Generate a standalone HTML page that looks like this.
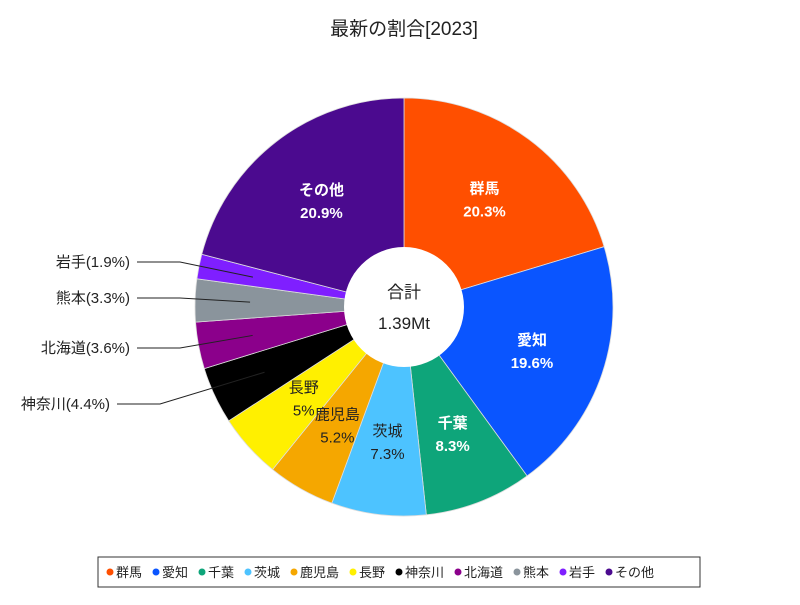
<!DOCTYPE html>
<html><head><meta charset="utf-8"><style>
body{margin:0;background:#fff;}
svg text{font-family:"Liberation Sans","Noto Sans CJK JP",sans-serif;}
</style></head><body>
<svg id="c" width="800" height="600" viewBox="0 0 800 600" xmlns="http://www.w3.org/2000/svg">
<rect width="800" height="600" fill="#fff"/>
<text x="404" y="35" font-size="19" text-anchor="middle" fill="#222">最新の割合[2023]</text>
<g id="slices"></g>
<g id="labels"></g>
<circle cx="404" cy="307" r="60" fill="#fff"/>
<text x="404" y="298" font-size="17" text-anchor="middle" fill="#222">合計</text>
<text x="404" y="329" font-size="17" text-anchor="middle" fill="#222">1.39Mt</text>
<rect x="98" y="557" width="602" height="30" fill="#fff" stroke="#333" stroke-width="1"/>
<g id="legend"></g>
</svg>
<script>
const categories=["群馬","愛知","千葉","茨城","鹿児島","長野","神奈川","北海道","熊本","岩手","その他"];
const values=[20.3,19.6,8.3,7.3,5.2,5,4.4,3.6,3.3,1.9,20.9];
const valueLabels=["20.3%","19.6%","8.3%","7.3%","5.2%","5%","4.4%","3.6%","3.3%","1.9%","20.9%"];
const colors=["#ff4f00","#0a55ff","#0ea57a","#4dc3ff","#f5a700","#fff000","#000000","#8b008b","#8a949c","#7f1fff","#4b0a8f"];
const textColors=["#fff","#fff","#fff","#222","#222","#222",null,null,null,null,"#fff"];
const NS="http://www.w3.org/2000/svg";
const cx=404,cy=307,R=209,r0=60,rl=135;
const total=values.reduce((a,b)=>a+b,0);
function pt(a,rad){return [cx+rad*Math.sin(a),cy-rad*Math.cos(a)];}
function mk(t,attrs,parent){const e=document.createElementNS(NS,t);for(const k in attrs)e.setAttribute(k,attrs[k]);parent.appendChild(e);return e;}
const gs=document.getElementById('slices'),gl=document.getElementById('labels'),gleg=document.getElementById('legend');
let acc=0;
const outside={6:[160,404],7:[180,348],8:[180,298],9:[180,262]};
values.forEach((v,i)=>{
  const a0=acc/total*2*Math.PI;acc+=v;const a1=acc/total*2*Math.PI;
  const p0=pt(a0,R),p1=pt(a1,R);const large=(a1-a0)>Math.PI?1:0;
  const p=mk('path',{d:`M${cx},${cy} L${p0[0]},${p0[1]} A${R},${R} 0 ${large} 1 ${p1[0]},${p1[1]} Z`,fill:colors[i],stroke:'#ddd','stroke-width':0.8},gs);
  
  
  const am=(a0+a1)/2;const m=pt(am,rl);
  if(textColors[i]){
    const bold=textColors[i]==='#fff'?'bold':'normal';
    const t1=mk('text',{x:m[0],y:m[1]-5,'font-size':15,'text-anchor':'middle',fill:textColors[i],'font-weight':bold},gl);
    t1.textContent=categories[i];
    
    
    const t2=mk('text',{x:m[0],y:m[1]+18,'font-size':15,'text-anchor':'middle',fill:textColors[i],'font-weight':bold},gl);
    t2.textContent=valueLabels[i];
    
    
  } else {
    const e=pt(am,R-55);const o=outside[i];
    const ln=mk('polyline',{points:`${o[0]-43},${o[1]} ${o[0]},${o[1]} ${e[0]},${e[1]}`,fill:'none',stroke:'#222','stroke-width':1},gl);
    
    
    const t=mk('text',{x:o[0]-50,y:o[1]+5,'font-size':15,'text-anchor':'end',fill:'#222'},gl);
    t.textContent=categories[i]+'('+valueLabels[i]+')';
    
    
  }
});
let lx=106;
categories.forEach((c,i)=>{
  const g=mk('g',{},gleg);
  
  
  mk('circle',{cx:lx+4,cy:572,r:3.5,fill:colors[i]},g);
  const t=mk('text',{x:lx+10,y:577,'font-size':13,fill:'#222'},g);
  t.textContent=c;
  lx+=10+c.length*13+10;
});
</script>
</body></html>
